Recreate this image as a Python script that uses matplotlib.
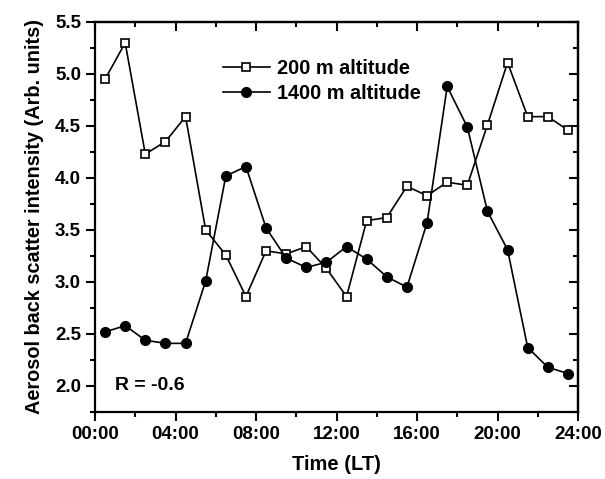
import matplotlib
matplotlib.use("Agg")
import matplotlib.pyplot as plt
from matplotlib.ticker import MultipleLocator, FormatStrFormatter

plt.rcParams['font.family'] = ['Liberation Sans', 'DejaVu Sans']
plt.rcParams['font.weight'] = 'bold'

hours = [0.5, 1.5, 2.5, 3.5, 4.5, 5.5, 6.5, 7.5, 8.5, 9.5, 10.5, 11.5,
         12.5, 13.5, 14.5, 15.5, 16.5, 17.5, 18.5, 19.5, 20.5, 21.5, 22.5, 23.5]
alt200 = [4.95, 5.30, 4.23, 4.35, 4.59, 3.50, 3.26, 2.86, 3.30, 3.27, 3.34, 3.13,
          2.86, 3.59, 3.62, 3.92, 3.83, 3.96, 3.93, 4.51, 5.11, 4.59, 4.59, 4.46]
alt1400 = [2.52, 2.58, 2.44, 2.41, 2.41, 3.01, 4.02, 4.11, 3.52, 3.23, 3.14, 3.19,
           3.34, 3.22, 3.05, 2.95, 3.57, 4.88, 4.49, 3.68, 3.31, 2.37, 2.18, 2.12]
xticks = [0, 4, 8, 12, 16, 20, 24]
xticklabels = ["00:00", "04:00", "08:00", "12:00", "16:00", "20:00", "24:00"]

fig = plt.figure(figsize=(6.05, 4.79), dpi=100)
ax = fig.add_axes([95/605, 1-412/479, (578-95)/605, (412-22)/479])

ax.plot(hours, alt200, '-s', color='black', lw=1.2, ms=6, mfc='white',
        mec='black', mew=1.2, label='200 m altitude', zorder=3)
ax.plot(hours, alt1400, '-o', color='black', lw=1.2, ms=7, mfc='black',
        mec='black', label='1400 m altitude', zorder=3)

ax.set_xlim(0, 24)
ax.set_ylim(1.75, 5.5)
ax.set_xticks(xticks)
ax.set_xticklabels(xticklabels)
ax.xaxis.set_minor_locator(MultipleLocator(2))
ax.yaxis.set_major_locator(MultipleLocator(0.5))
ax.yaxis.set_minor_locator(MultipleLocator(0.25))
ax.yaxis.set_major_formatter(FormatStrFormatter('%.1f'))
ax.tick_params(which='major', direction='out', length=6.5, width=1.5, labelsize=13.5, pad=3.5)
ax.tick_params(which='minor', direction='out', length=3.5, width=1.5)
for lab in ax.get_xticklabels() + ax.get_yticklabels():
    lab.set_fontweight('bold')
for s in ax.spines.values():
    s.set_linewidth(1.6)

top = ax.secondary_xaxis('top')
top.set_xticks(xticks)
top.xaxis.set_minor_locator(MultipleLocator(2))
top.tick_params(which='major', direction='in', length=6.5, width=1.5, labeltop=False)
top.tick_params(which='minor', direction='in', length=3.5, width=1.5)
top.spines['top'].set_linewidth(1.6)
right = ax.secondary_yaxis('right')
right.yaxis.set_major_locator(MultipleLocator(0.5))
right.yaxis.set_minor_locator(MultipleLocator(0.25))
right.tick_params(which='major', direction='in', length=6.5, width=1.5, labelright=False)
right.tick_params(which='minor', direction='in', length=3.5, width=1.5)
right.spines['right'].set_linewidth(1.6)

ax.set_xlabel('Time (LT)', fontsize=14.5, fontweight='bold', labelpad=9)
ax.set_ylabel('Aerosol back scatter intensity (Arb. units)', fontsize=14.3,
              fontweight='bold', labelpad=8)

ax.text(1.0, 2.0, 'R = -0.6', fontsize=14, fontweight='bold', va='center', ha='left')

leg = ax.legend(loc='upper left', bbox_to_anchor=(0.227, 0.95), frameon=False,
                handlelength=2.4, handletextpad=0.35, labelspacing=0.3,
                prop={'weight': 'bold', 'size': 14.3})

fig.savefig('out.png', dpi=100)
